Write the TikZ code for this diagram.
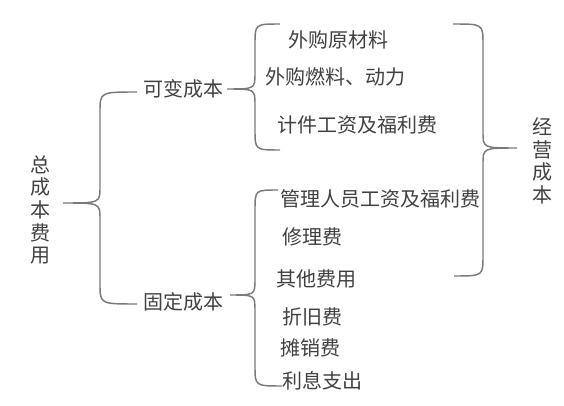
\documentclass[tikz,border=0pt]{standalone}
\usepackage{fontspec}
\setmainfont{Noto Sans CJK SC}
\usetikzlibrary{calc}

\definecolor{txtgray}{HTML}{404040}
\definecolor{linegray}{HTML}{7A7A7A}

% #1 top end, #2 tip, #3 bottom end, #4 spine
\newcommand\curlybrace[4]{%
  \draw[brace] (#1) .. controls (#1 -| #4) .. ($(#1 -| #4)+(0,20)$)
    -- ($(#2 -| #4)+(0,-16)$) .. controls (#2 -| #4) .. (#2)
    .. controls (#2 -| #4) .. ($(#2 -| #4)+(0,16)$)
    -- ($(#3 -| #4)+(0,-20)$) .. controls (#3 -| #4) .. (#3);}

\begin{document}
\begin{tikzpicture}[
    x=0.75pt,y=-0.75pt,
    every node/.style={text=txtgray,font=\fontsize{15}{17}\selectfont,inner sep=0pt},
    item/.style={anchor=west},
    brace/.style={draw=linegray,line width=1.1pt}
]
\useasboundingbox (0,0) rectangle (564,406);

% first level
\node[align=center] (total) at (40,210) {总\\成\\本\\费\\用};
\node (var) at (183,89) {可变成本};
\node (fix) at (183,302) {固定成本};
\node[align=center] (oper) at (542,161) {经\\营\\成\\本};

% variable cost items
\node[item] (v1) at (288,40) {外购原材料};
\node[item] (v2) at (265,77) {外购燃料、动力};
\node[item] (v3) at (277,125) {计件工资及福利费};

% fixed cost items
\node[item] (f1) at (280,199) {管理人员工资及福利费};
\node[item] (f2) at (282,237) {修理费};
\node[item] (f3) at (276,279) {其他费用};
\node[item] (f4) at (282,317) {折旧费};
\node[item] (f5) at (280,348) {摊销费};
\node[item] (f6) at (282,381) {利息支出};

% brace ends
\coordinate (tTop) at (137,92);  \coordinate (tTip) at (63,203);
\coordinate (tBot) at (137,304); \coordinate (tSp) at (100,0);
\coordinate (vTop) at (280,24);  \coordinate (vTip) at (227,89);
\coordinate (vBot) at (280,150); \coordinate (vSp) at (255,0);
\coordinate (fTop) at (278,190); \coordinate (fTip) at (230,295);
\coordinate (fBot) at (282,386); \coordinate (fSp) at (255,0);
\coordinate (oTop) at (453,24);  \coordinate (oTip) at (517,148);
\coordinate (oBot) at (454,276); \coordinate (oSp) at (483,0);

\curlybrace{tTop}{tTip}{tBot}{tSp}
\curlybrace{vTop}{vTip}{vBot}{vSp}
\curlybrace{fTop}{fTip}{fBot}{fSp}
\curlybrace{oTop}{oTip}{oBot}{oSp}
\end{tikzpicture}
\end{document}
